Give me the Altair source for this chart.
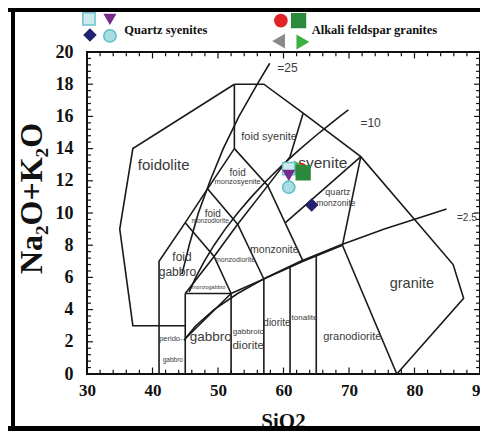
import altair as alt
import pandas as pd
import numpy as np

# ---------------- boundary polylines (SiO2, Na2O+K2O) ----------------
boundaries = {
    "outer_left": [(41, 0), (41, 7), (45, 9.4), (48.4, 11.5), (52.5, 14), (52.5, 18)],
    "foidolite": [(52.5, 18), (37, 14), (35, 9), (37, 3), (45, 3)],
    "top_right": [(52.5, 18), (57, 18), (63, 16.2), (71.8, 13.5), (85.9, 6.8), (87.5, 4.7), (77.3, 0)],
    "v45": [(45, 0), (45, 5)],
    "mid": [(45, 5), (49.4, 7.3), (53, 9.3), (57.6, 11.7), (61, 13.5), (63, 16.2)],
    "b1": [(45, 9.4), (49.4, 7.3), (52, 5)],
    "b2": [(48.4, 11.5), (53, 9.3), (57, 5.9)],
    "b3": [(52.5, 14), (57.6, 11.7), (63, 7)],
    "h5": [(45, 5), (52, 5)],
    "v52": [(52, 0), (52, 5)],
    "v57": [(57, 0), (57, 5.9)],
    "v61": [(61, 0), (61, 6.6)],
    "v65": [(65, 0), (65, 7.4)],
    "low": [(52, 5), (57, 5.9), (63, 7), (69, 8)],
    "grd": [(69, 8), (77.3, 0)],
    "syn": [(69, 8), (71.8, 13.5)],
    "qmz": [(60.3, 9.4), (71.8, 13.5)],
    "gab": [(45, 2.2), (52, 5)],
}

# sigma lines
sigma25_x = [44.5, 45.6, 47.0, 48.8, 50.8, 53.2, 56.0, 57.9]
sigma25_y = [6.2, 8, 10, 12, 14, 16, 18, 19.3]
sigma10_x = [45.6, 46.6, 47.9, 49.4, 51.1, 53.0, 55.1, 57.4, 59.9, 62.6, 65.5, 68.6, 69.9]
sigma10_y = [5.1, 6, 7, 8, 9, 10, 11, 12, 13, 14, 15, 16, 16.4]
sigma25b_x = [44.8, 46.6, 49.4, 53.0, 57.4, 62.6, 68.6, 75.4, 83.0, 84.9]
sigma25b_y = [2.1, 3, 4, 5, 6, 7, 8, 9, 10, 10.25]

# ---------------- field labels ----------------
label_text = ["foidolite", "foid syenite", "syenite", "foid", "monzosyenite", "foid", "monzodiorite",
              "foid", "gabbro", "monzodiorite", "monzonite", "monzogabbro", "perido-", "gabbro",
              "gabbro", "gabbroic", "diorite", "diorite", "tonalite", "granodiorite", "granite",
              "quartz", "monzonite", "=25", "=10", "=2.5"]
label_x = [41.7, 57.8, 66.0, 53.0, 53.0, 49.2, 48.8, 44.5, 43.8, 52.6, 58.6, 48.6, 42.8, 43.1,
           48.9, 54.6, 54.6, 59.0, 63.2, 70.5, 79.6, 68.3, 68.0, 60.6, 73.3, 88.0]
label_y = [13.0, 14.7, 13.1, 12.5, 11.9, 9.95, 9.5, 7.25, 6.35, 7.1, 7.7, 5.4, 2.15, 0.9,
           2.3, 2.6, 1.75, 3.15, 3.5, 2.3, 5.6, 11.3, 10.6, 19.0, 15.6, 9.7]
label_size = [15, 11, 15.5, 10, 7.5, 10, 6.5, 12, 12, 7, 10.5, 5.5, 7.5, 6.5,
              13.5, 8, 11.5, 10, 8, 11, 14.5, 9, 8.5, 12, 12, 10]

# ---------------- samples ----------------
sample_id = ["afg_circle", "afg_left", "afg_right", "qs_square", "qs_down", "qs_circle", "qs_diamond", "afg_square"]
sample_x = [62.6, 62.3, 62.5, 60.8, 60.8, 60.8, 64.3, 63.0]
sample_y = [12.7, 12.5, 12.8, 12.75, 12.35, 11.6, 10.5, 12.5]

# legend entries (placed above the plot in data units)
legend_id = ["qs_square", "qs_down", "qs_diamond", "qs_circle", "afg_circle", "afg_square", "afg_left", "afg_right"]
legend_x = [30.3, 33.5, 30.45, 33.5, 59.6, 62.3, 59.3, 62.9]
legend_y = [22.05, 22.05, 21.05, 21.0, 21.95, 21.95, 20.68, 20.62]
legend_text = ["Quartz syenites", "Alkali feldspar granites"]
legend_text_x = [35.7, 64.3]
legend_text_y = [21.35, 21.35]

styles = {
    "qs_square": ("square", "#cdebef", "#6cc3cc", 150),
    "qs_down": ("triangle-down", "#7a2a8c", "#7a2a8c", 110),
    "qs_diamond": ("diamond", "#22226e", "#22226e", 130),
    "qs_circle": ("circle", "#a9dde2", "#5bbec8", 150),
    "afg_circle": ("circle", "#e02424", "#e02424", 150),
    "afg_square": ("square", "#2c8a3c", "#2c8a3c", 190),
    "afg_left": ("triangle-left", "#8a8a8a", "#8a8a8a", 150),
    "afg_right": ("triangle-right", "#3cb043", "#3cb043", 150),
}

# ---------------- build tables ----------------
rows = []
for name, pts in boundaries.items():
    for i, (x, y) in enumerate(pts):
        rows.append({"line": name, "o": i, "x": x, "y": y})
for name, xs, ys in [("s25", sigma25_x, sigma25_y), ("s10", sigma10_x, sigma10_y), ("s2.5", sigma25b_x, sigma25b_y)]:
    for i, (x, y) in enumerate(zip(xs, ys)):
        rows.append({"line": name, "o": i, "x": x, "y": y})
lines_df = pd.DataFrame(rows)

labels_df = pd.DataFrame({"t": label_text, "x": label_x, "y": label_y, "s": label_size})


def marker_df(ids, xs, ys):
    return pd.DataFrame({
        "id": ids, "x": xs, "y": ys,
        "shape": [styles[i][0] for i in ids],
        "fill": [styles[i][1] for i in ids],
        "stroke": [styles[i][2] for i in ids],
        "size": [styles[i][3] for i in ids],
    })


samples_df = marker_df(sample_id, sample_x, sample_y)
samples_df["k"] = range(len(samples_df))
legend_df = marker_df(legend_id, legend_x, legend_y)
legend_text_df = pd.DataFrame({"t": legend_text, "x": legend_text_x, "y": legend_text_y})

# tick marks (drawn inward)
xt = np.arange(30, 91, 2)
yt = np.round(np.arange(0, 20.01, 0.4), 2)
ticks_rows = []
for v in xt:
    L = 0.4 if v % 10 == 0 else 0.26
    ticks_rows.append({"x": v, "x2": v, "y": 0, "y2": L})
    ticks_rows.append({"x": v, "x2": v, "y": 20, "y2": 20 - L})
for v in yt:
    L = 0.9 if abs(v - round(v / 2) * 2) < 1e-6 else 0.6
    ticks_rows.append({"x": 30, "x2": 30 + L, "y": v, "y2": v})
    ticks_rows.append({"x": 90, "x2": 90 - L, "y": v, "y2": v})
ticks_df = pd.DataFrame(ticks_rows)

xscale = alt.Scale(domain=[30, 90], nice=False, zero=False)
yscale = alt.Scale(domain=[0, 20], nice=False, zero=False)

serif = "Liberation Serif, Times New Roman, serif"
sans = "Liberation Sans, Arial, sans-serif"

xaxis = alt.Axis(values=[30, 40, 50, 60, 70, 80, 90], ticks=False, domain=False, grid=False,
                 labelFont=serif, labelFontWeight="bold", labelFontSize=17, labelColor="#111",
                 labelPadding=8, labelOverlap=False, labelFlush=False,
                 title="SiO2", titleFont=serif, titleFontWeight="bold",
                 titleFontSize=21, titleColor="#111", titleX=196, titleY=47,
                 titleAlign="center", titleBaseline="middle")
yaxis = alt.Axis(values=[0, 2, 4, 6, 8, 10, 12, 14, 16, 18, 20], ticks=False, domain=False, grid=False,
                 labelFont=serif, labelFontWeight="bold", labelFontSize=18, labelColor="#111",
                 labelPadding=14, labelOverlap=False, labelFlush=False,
                 title="Na₂O+K₂O", titleFont=serif, titleFontWeight="bold",
                 titleFontSize=32, titleColor="#111", titleX=-56, titleY=146,
                 titleAlign="center", titleBaseline="middle", titleAngle=270)


def X():
    return alt.X("x:Q", scale=xscale, axis=xaxis)


def Y():
    return alt.Y("y:Q", scale=yscale, axis=yaxis)


base_lines = alt.Chart(lines_df).mark_line(color="#1a1a1a", strokeWidth=1.6, clip=True).encode(
    x=X(), y=Y(), detail="line:N", order="o:Q")

tick_marks = alt.Chart(ticks_df).mark_rule(color="#111", strokeWidth=1.2).encode(
    x=X(), x2="x2:Q", y=Y(), y2="y2:Q")

labels = alt.Chart(labels_df).mark_text(font=sans, color="#3a3a3a").encode(
    x=X(), y=Y(), text="t:N", size=alt.Size("s:Q", scale=None))

pts = alt.Chart(samples_df).mark_point(filled=True, opacity=1, strokeWidth=1.5).encode(
    x=X(), y=Y(),
    shape=alt.Shape("shape:N", scale=None),
    fill=alt.Fill("fill:N", scale=None),
    stroke=alt.Stroke("stroke:N", scale=None),
    size=alt.Size("size:Q", scale=None),
    order=alt.Order("k:Q"),
)

leg_pts = alt.Chart(legend_df).mark_point(filled=True, opacity=1, strokeWidth=1.5).encode(
    x=X(), y=Y(),
    shape=alt.Shape("shape:N", scale=None),
    fill=alt.Fill("fill:N", scale=None),
    stroke=alt.Stroke("stroke:N", scale=None),
    size=alt.Size("size:Q", scale=None),
)

leg_txt = alt.Chart(legend_text_df).mark_text(font=serif, fontWeight="bold", fontSize=12.5,
                                             color="#111", align="left", baseline="middle").encode(
    x=X(), y=Y(), text="t:N")

# outer black frame of the figure
frame_top = alt.Chart(pd.DataFrame({"k": [0]})).mark_rule(color="black", strokeWidth=4).encode(
    x=alt.value(-82), x2=alt.value(410), y=alt.value(-42))
frame_left = alt.Chart(pd.DataFrame({"k": [0]})).mark_rule(color="black", strokeWidth=4).encode(
    x=alt.value(-74), y=alt.value(-44), y2=alt.value(390))
frame_bottom = alt.Chart(pd.DataFrame({"k": [0]})).mark_rule(color="black", strokeWidth=5).encode(
    x=alt.value(-82), x2=alt.value(410), y=alt.value(376.5))

chart = alt.layer(base_lines, tick_marks, labels, pts, leg_pts, leg_txt,
                  frame_top, frame_left, frame_bottom).properties(
    width=393, height=322,
    autosize=alt.AutoSizeParams(type="none"),
    padding={"left": 79, "top": 44, "right": 0, "bottom": 57},
    background="white",
).configure_view(stroke="#111", strokeWidth=2).configure_axis(labelOverlap=False)

chart.save("out.html", embed_options={"renderer": "svg", "actions": False})
